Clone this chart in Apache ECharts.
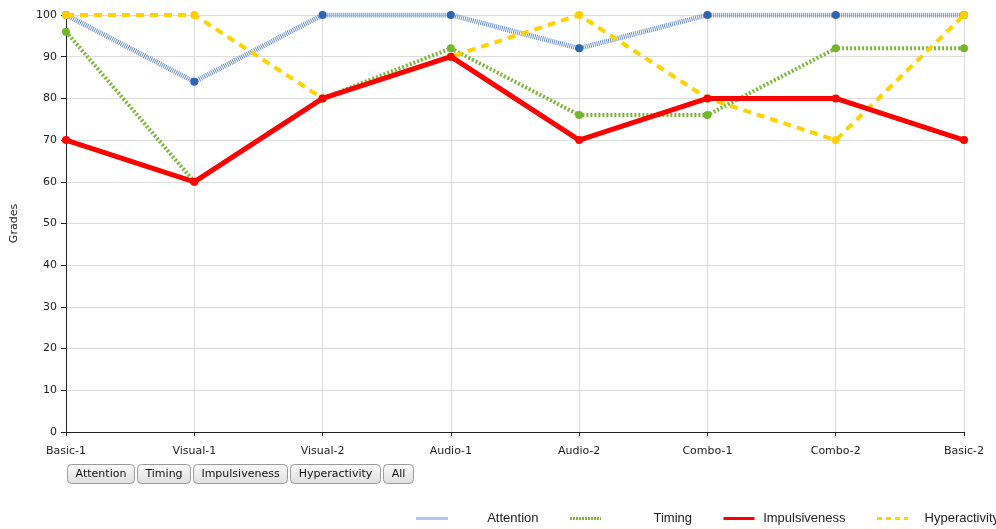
<!DOCTYPE html>
<html>
<head>
<meta charset="utf-8">
<title>Grades</title>
<script src="https://cdn.jsdelivr.net/npm/echarts@6/dist/echarts.min.js"></script>
<style>
  html, body { margin: 0; padding: 0; background: #fff; }
  #chart { width: 996px; height: 529px; }
</style>
</head>
<body>
<div id="chart"></div>
<script>
// Test stages along the x axis
const stages = ['Basic-1', 'Visual-1', 'Visual-2', 'Audio-1', 'Audio-2', 'Combo-1', 'Combo-2', 'Basic-2'];

// Grades per measure
const attention     = [100, 84, 100, 100, 92, 100, 100, 100];
const timing        = [96, 60, 80, 92, 76, 76, 92, 92];
const impulsiveness = [70, 60, 80, 90, 70, 80, 80, 70];
const hyperactivity = [100, 100, 80, 90, 100, 80, 70, 100];

// Y axis ticks
const gradeTicks = [0, 10, 20, 30, 40, 50, 60, 70, 80, 90, 100];

// Filter buttons under the axis
const buttonLabels = ['Attention', 'Timing', 'Impulsiveness', 'Hyperactivity', 'All'];

const axisFont = '"DejaVu Sans", Verdana, sans-serif';
const legendFont = '"Liberation Sans", Arial, sans-serif';

const chart = echarts.init(document.getElementById('chart'), null, { renderer: 'canvas' });

function lineSeries(name, data, color, symbolColor, width, dash, z) {
  return {
    name: name,
    type: 'line',
    data: data,
    z: z,
    symbol: 'circle',
    symbolSize: 8,
    showSymbol: true,
    itemStyle: { color: symbolColor },
    lineStyle: { color: color, width: width, type: dash, cap: 'butt' },
    emphasis: { disabled: true },
    animation: false
  };
}

// Build the row of filter buttons from measured label widths
const measure = document.createElement('canvas').getContext('2d');
measure.font = '11px ' + axisFont;
const buttons = [];
let bx = 67;
buttonLabels.forEach(function (label) {
  const w = Math.round(measure.measureText(label).width) + 16;
  buttons.push({
    type: 'group',
    left: bx,
    top: 464,
    onclick: function () { showOnly(label); },
    children: [
      {
        type: 'rect',
        shape: { x: 0, y: 0, width: w, height: 19, r: 4 },
        style: {
          fill: new echarts.graphic.LinearGradient(0, 0, 0, 1, [
            { offset: 0, color: '#fbfbfb' },
            { offset: 1, color: '#dedede' }
          ]),
          stroke: '#9a9a9a',
          lineWidth: 1
        }
      },
      {
        type: 'text',
        x: w / 2,
        y: 10,
        style: {
          text: label,
          font: '11px ' + axisFont,
          fill: '#111',
          align: 'center',
          verticalAlign: 'middle'
        }
      }
    ]
  });
  bx += w + 3;
});

const seriesNames = ['Attention', 'Timing', 'Impulsiveness', 'Hyperactivity'];
function showOnly(label) {
  seriesNames.forEach(function (n) {
    chart.dispatchAction({
      type: (label === 'All' || label === n) ? 'legendSelect' : 'legendUnSelect',
      name: n
    });
  });
}

const legendLines = {
  Attention: { width: 3, type: [1, 1] },
  Timing: { width: 3, type: [2, 1] },
  Impulsiveness: { width: 3, type: 'solid' },
  Hyperactivity: { width: 3, type: [5, 4] }
};

const option = {
  backgroundColor: '#ffffff',
  animation: false,
  grid: { left: 66, right: 32, top: 15, bottom: 97, containLabel: false, outerBoundsMode: 'none' },
  legend: {
    data: seriesNames.map(function (n) { return { name: n, lineStyle: legendLines[n] }; }),
    left: 415,
    top: 512,
    width: 600,
    padding: 0,
    itemWidth: 31,
    itemHeight: 14,
    itemGap: 30,
    selectedMode: true,
    itemStyle: { opacity: 0 },
    formatter: function (name) { return '{t|' + name + '}'; },
    textStyle: {
      fontFamily: legendFont,
      fontSize: 13,
      color: '#222',
      rich: { t: { width: 86, align: 'right', fontFamily: legendFont, fontSize: 13, color: '#222' } }
    }
  },
  xAxis: {
    type: 'category',
    data: stages,
    boundaryGap: false,
    axisLine: { show: true, lineStyle: { color: '#222', width: 1 } },
    axisTick: { show: true, alignWithLabel: true, length: 4, lineStyle: { color: '#222' } },
    axisLabel: { fontFamily: axisFont, fontSize: 11, color: '#222', margin: 14, interval: 0 },
    splitLine: { show: true, lineStyle: { color: '#dcdcdc', width: 1 } }
  },
  yAxis: {
    type: 'value',
    min: gradeTicks[0],
    max: gradeTicks[gradeTicks.length - 1],
    interval: gradeTicks[1] - gradeTicks[0],
    name: 'Grades',
    nameLocation: 'middle',
    nameGap: 46,
    nameRotate: 90,
    nameTextStyle: { fontFamily: axisFont, fontSize: 11, color: '#222' },
    axisLine: { show: true, lineStyle: { color: '#222', width: 1 } },
    axisTick: { show: true, length: 5, lineStyle: { color: '#222' } },
    axisLabel: { fontFamily: axisFont, fontSize: 11, color: '#222', margin: 9 },
    splitLine: { show: true, lineStyle: { color: '#dcdcdc', width: 1 } }
  },
  series: [
    lineSeries('Attention', attention, '#6a93cc', '#2f64ae', 5, [1, 1], 2),
    lineSeries('Timing', timing, '#7ab834', '#74b52e', 4, [2, 2], 3),
    lineSeries('Impulsiveness', impulsiveness, '#ff0000', '#ff0000', 5, 'solid', 5),
    lineSeries('Hyperactivity', hyperactivity, '#ffd200', '#ffcf00', 4, [8, 6], 4)
  ],
  graphic: buttons
};

chart.setOption(option);
</script>
</body>
</html>
